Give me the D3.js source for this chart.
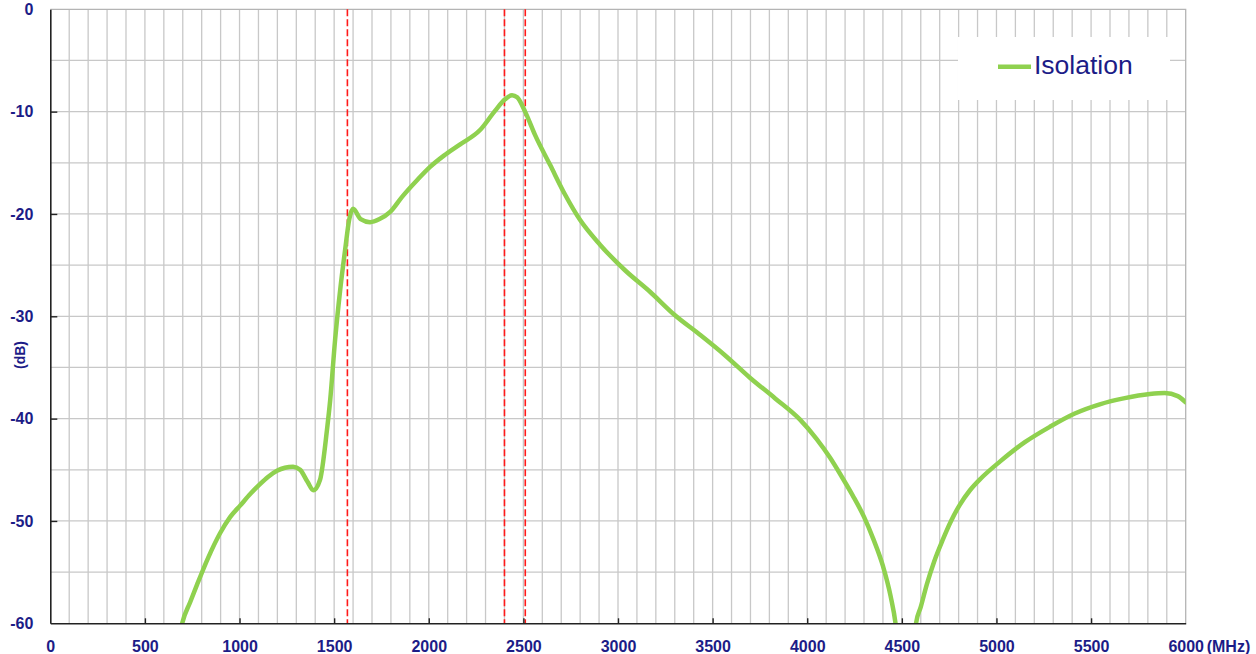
<!DOCTYPE html>
<html>
<head>
<meta charset="utf-8">
<script src="https://cdn.jsdelivr.net/npm/d3@7"></script>
<style>
  body { margin:0; background:#fff; }
  svg text { font-family: "Liberation Sans", Arial, sans-serif; }
</style>
</head>
<body>
<svg id="chart" width="1256" height="654"></svg>
<script>
// isolation curve (MHz, dB)
var freqMHz = [680, 697, 740, 776, 834, 897, 951, 1003, 1060, 1108, 1150, 1198, 1240, 1283, 1320, 1360, 1390, 1425, 1462, 1479, 1505, 1532, 1558, 1580, 1600,
  1640, 1690, 1740, 1796, 1860, 1938, 2007, 2080, 2166, 2271, 2351, 2403, 2440, 2467, 2509, 2562, 2641, 2720, 2800, 2905, 3037,
  3169, 3301, 3433, 3565, 3697, 3829, 3962, 4050, 4120, 4180, 4240, 4300, 4350, 4400, 4440, 4470, 4510, 4550, 4575, 4600, 4632,
  4670, 4717, 4760, 4807, 4860, 4920, 5018, 5150, 5282, 5414, 5546, 5678, 5810, 5889, 5958, 6000];
var isolationDb = [-61.5, -60, -57.9, -56.2, -53.6, -51.2, -49.6, -48.5, -47.3, -46.4, -45.7, -45.1, -44.8, -44.7, -45.0, -46.2, -47, -46, -41.1, -38.2, -32.3, -27.4, -23.5, -20.5, -19.5,
  -20.5, -20.8, -20.5, -19.8, -18.3, -16.7, -15.4, -14.3, -13.2, -11.8, -9.9, -8.8, -8.4, -8.6, -10, -12.3, -15.2, -18.1, -20.6, -23, -25.5,
  -27.6, -29.9, -31.8, -33.8, -36, -38, -40.1, -42, -43.8, -45.6, -47.5, -49.6, -51.8, -54.4, -57.3, -60.5, -70, -68, -60, -58.4, -56.2,
  -54, -51.8, -50, -48.4, -47, -45.8, -44.2, -42.3, -40.8, -39.5, -38.6, -38, -37.6, -37.5, -37.8, -38.4];
var markerMHz = [1570, 2400, 2510];
var xTicks = [0, 500, 1000, 1500, 2000, 2500, 3000, 3500, 4000, 4500, 5000, 5500, 6000];
var yTicks = [0, -10, -20, -30, -40, -50, -60];
var seriesName = 'Isolation';

var navy = '#1c1c87';
var svg = d3.select('#chart');
var margin = {left:50.3, top:9.3, right:70.3, bottom:30.7};
var plotWidth = 1256 - margin.left - margin.right;
var plotHeight = 654 - margin.top - margin.bottom;

var x = d3.scaleLinear().domain([0, 6000]).range([0, plotWidth]);
var y = d3.scaleLinear().domain([-60, 0]).range([plotHeight, 0]);

var plot = svg.append('g').attr('transform', 'translate(' + margin.left + ',' + margin.top + ')');

// grid, every 100 MHz and every 5 dB
var gridX = d3.range(100, 6000, 100);
var gridY = d3.range(-5, -60, -5);
plot.append('g').selectAll('line').data(gridX).enter().append('line')
  .attr('x1', d => x(d)).attr('x2', d => x(d))
  .attr('y1', 0).attr('y2', plotHeight)
  .attr('stroke', '#c8c8c8').attr('stroke-width', 1.3);
plot.append('g').selectAll('line').data(gridY).enter().append('line')
  .attr('x1', 0).attr('x2', plotWidth)
  .attr('y1', d => y(d)).attr('y2', d => y(d))
  .attr('stroke', '#c8c8c8').attr('stroke-width', 1.3);

// top and right border
plot.append('path')
  .attr('d', 'M0,' + y(0) + 'H' + x(6000) + 'V' + y(-60))
  .attr('fill', 'none').attr('stroke', '#b4b4b4').attr('stroke-width', 1.3);

// legend box covers the grid
var legend = plot.append('g').attr('transform', 'translate(' + (958 - margin.left) + ',' + (37 - margin.top) + ')');
legend.append('rect').attr('width', 212).attr('height', 63).attr('fill', '#fff');

// marker lines
plot.append('g').selectAll('line').data(markerMHz).enter().append('line')
  .attr('x1', d => x(d)).attr('x2', d => x(d))
  .attr('y1', 0).attr('y2', plotHeight)
  .attr('stroke', '#ff1a1a').attr('stroke-width', 1.6)
  .attr('stroke-dasharray', '7,3');

// curve, clipped to plot
svg.append('clipPath').attr('id', 'clip')
  .append('rect').attr('width', plotWidth).attr('height', plotHeight);

var line = d3.line()
  .x((d, i) => x(freqMHz[i]))
  .y(d => y(d))
  .curve(d3.curveMonotoneX);

plot.append('path')
  .datum(isolationDb)
  .attr('clip-path', 'url(#clip)')
  .attr('d', line)
  .attr('fill', 'none')
  .attr('stroke', '#8fd14f')
  .attr('stroke-width', 4.5)
  .attr('stroke-linejoin', 'round')
  .attr('stroke-linecap', 'round');

// axes
var plain = d => String(d);
var yAxis = plot.append('g')
  .call(d3.axisLeft(y).tickValues(yTicks).tickFormat(plain).tickSize(-7).tickSizeOuter(0).tickPadding(17));
var xAxis = plot.append('g')
  .attr('transform', 'translate(0,' + plotHeight + ')')
  .call(d3.axisBottom(x).tickValues(xTicks).tickFormat(plain).tickSize(-5).tickSizeOuter(0));

[yAxis, xAxis].forEach(function(a){
  a.select('.domain').attr('stroke', '#222').attr('stroke-width', 1.6);
  a.selectAll('.tick line').attr('stroke', '#222').attr('stroke-width', 1.4);
  a.selectAll('text')
    .attr('fill', navy)
    .style('font-size', '16px')
    .style('font-weight', 'bold');
});
yAxis.selectAll('.tick').filter(d => d === 0 || d === -60).select('line').remove();
xAxis.selectAll('.tick').filter(d => d === 0 || d === 6000).select('line').remove();
xAxis.selectAll('text').attr('y', 29).attr('dy', 0);

// unit labels
xAxis.append('text')
  .attr('x', x(6000) + 21).attr('y', 29)
  .attr('fill', navy)
  .style('font-size', '16px').style('font-weight', 'bold')
  .attr('text-anchor', 'start')
  .text('(MHz)');

svg.append('text')
  .attr('transform', 'translate(25,355) rotate(-90)')
  .attr('text-anchor', 'middle')
  .attr('fill', navy)
  .style('font-size', '14px').style('font-weight', 'bold')
  .text('(dB)');

// legend entry
legend.append('line')
  .attr('x1', 40).attr('x2', 73)
  .attr('y1', 29.7).attr('y2', 29.7)
  .attr('stroke', '#8fd14f').attr('stroke-width', 4.5);
legend.append('text')
  .attr('x', 76).attr('y', 37)
  .attr('fill', navy)
  .style('font-size', '26.5px')
  .text(seriesName);
</script>
</body>
</html>
